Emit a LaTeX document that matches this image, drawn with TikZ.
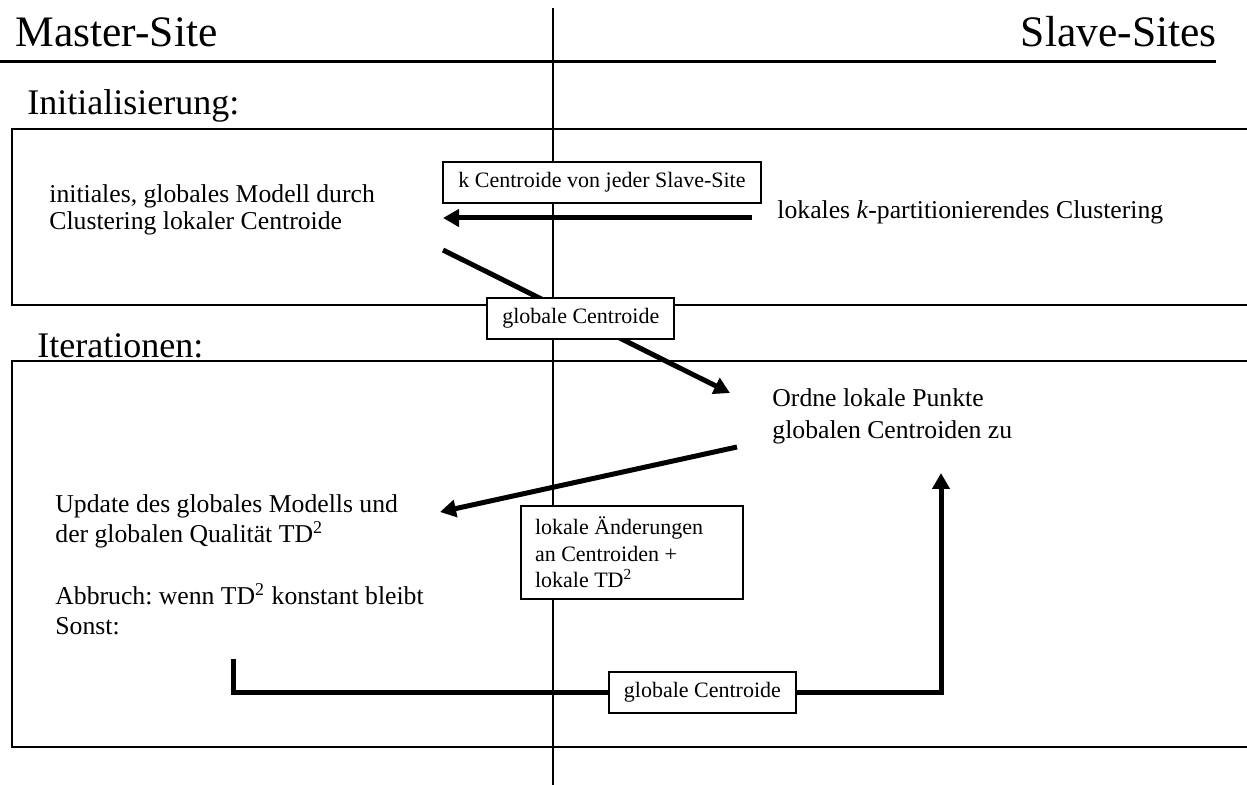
\documentclass[tikz,border=0pt]{standalone}
\usepackage{fontspec}
\setmainfont{Liberation Serif}
\frenchspacing
\usetikzlibrary{arrows.meta}
\tikzset{
    head/.style={anchor=base west, inner sep=0pt, font=\fontsize{18pt}{22pt}\selectfont},
    txt/.style={anchor=base west, inner sep=0pt, align=left, font=\fontsize{12.85pt}{15pt}\selectfont},
    lbl/.style={draw, fill=white, line width=1pt, inner xsep=7.5pt, minimum height=20.5pt, font=\fontsize{11pt}{13.25pt}\selectfont},
    flow/.style={line width=2.5pt, -{Triangle[length=8pt,width=8.5pt]}},
}
\begin{document}
\begin{tikzpicture}[x=0.5pt, y=-0.5pt]
    \useasboundingbox (0,0) rectangle (1247,785);
    \draw[line width=1pt] (553,8) -- (553,785);
    \draw[line width=1.5pt] (0,62) -- (1216,62);
    \draw[line width=1pt] (1247,129) -- (12,129) -- (12,305) -- (1247,305);
    \draw[line width=1pt] (1247,361) -- (12,361) -- (12,747) -- (1247,747);

    \node[head, font=\fontsize{21.75pt}{26pt}\selectfont] (master) at (15,47) {Master-Site};
    \node[head, anchor=base east, font=\fontsize{21.75pt}{26pt}\selectfont] (slave) at (1217,47) {Slave-Sites};
    \node[head] (init) at (27,115) {Initialisierung:};
    \node[head] (iter) at (37,358) {Iterationen:};

    \node[txt, font=\fontsize{12.85pt}{13.5pt}\selectfont] (initmodel) at (49,230) {initiales, globales Modell durch\\Clustering lokaler Centroide};
    \node[txt] (localclust) at (777,219) {lokales \textit{k}-partitionierendes Clustering};
    \node[txt, font=\fontsize{12.85pt}{16pt}\selectfont] (assign) at (772,439) {Ordne lokale Punkte\\globalen Centroiden zu};
    \node[txt] (update) at (55,634) {Update des globales Modells und\\der globalen Qualität TD\textsuperscript{2}\\[16pt]Abbruch: wenn TD\textsuperscript{2} konstant bleibt\\Sonst:};

    \coordinate (a1s) at (752,218);
    \coordinate (a1e) at (443,218);
    \coordinate (d1) at (443,250);
    \coordinate (d2) at (730,393);
    \coordinate (a3s) at (737,447);
    \coordinate (a3e) at (440,512);
    \coordinate (b1) at (233,659);
    \coordinate (b2) at (233,692);
    \coordinate (b3) at (941,692);
    \coordinate (b4) at (941,473);

    \draw[flow] (a1s) -- (a1e);
    \draw[flow] (d1) -- node[lbl, pos=0.48] (globcent) {globale Centroide} (d2);
    \draw[flow] (a3s) -- (a3e);
    \draw[flow] (b1) -- (b2) -- node[lbl, pos=0.663] (globcentb) {globale Centroide} (b3) -- (b4);

    \node[lbl] (kcent) at (602,182.5) {k Centroide von jeder Slave-Site};
    \node[lbl, anchor=north west, align=flush left, text width=97pt, inner xsep=7pt, minimum height=46.5pt] (changes) at (520,505) {lokale Änderungen\\an Centroiden +\\lokale TD\textsuperscript{2}};
\end{tikzpicture}
\end{document}
